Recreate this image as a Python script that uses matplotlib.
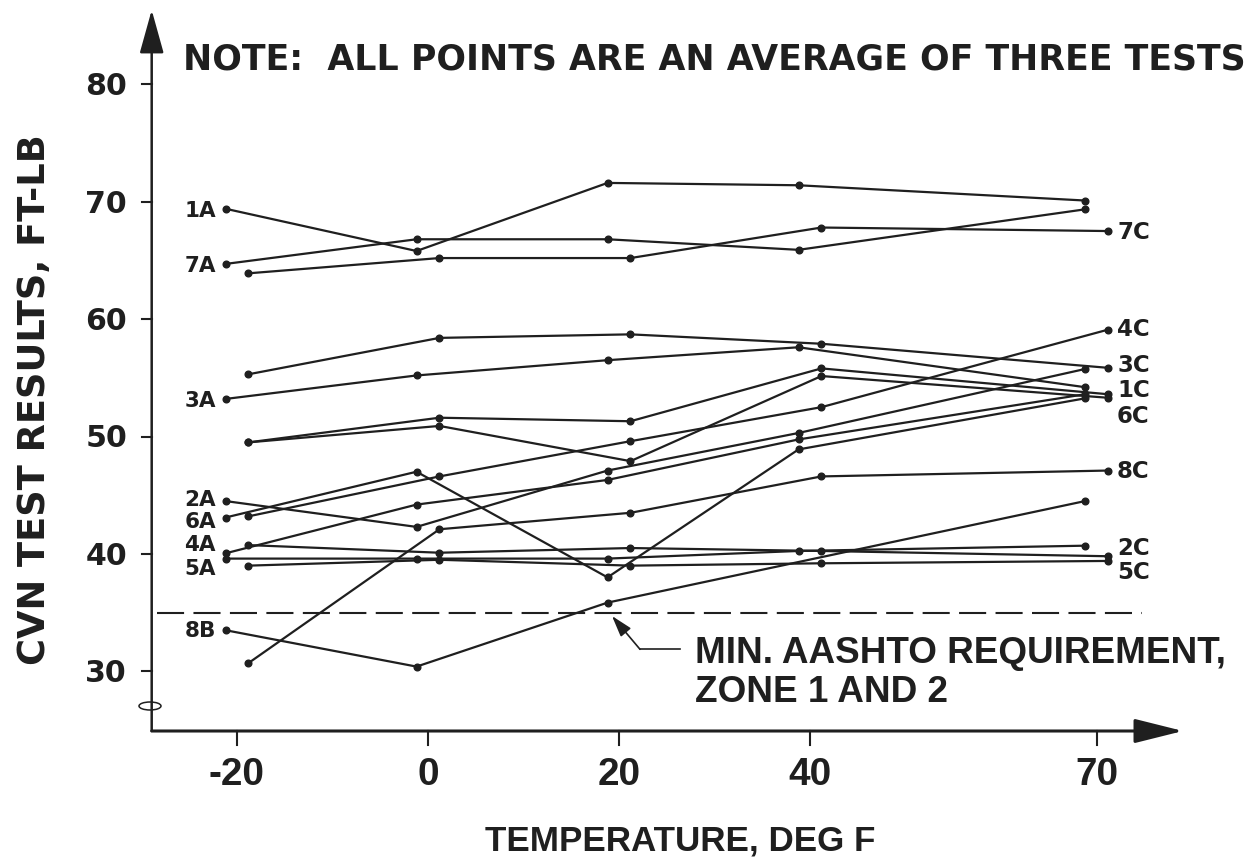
import numpy as np
import matplotlib
matplotlib.use('Agg')
import matplotlib.pyplot as plt
from matplotlib.patches import Ellipse

# nominal test temperatures (deg F) and CVN averages (ft-lb)
temps = [-20, 0, 20, 40, 70]

s_1A = [69.4, 65.8, 71.6, 71.4, 70.1]
s_7A = [64.7, 66.8, 66.8, 65.9, 69.35]
s_7C = [63.9, 65.2, 65.2, 67.8, 67.5]
s_3C = [55.3, 58.4, 58.7, 57.9, 55.85]
s_3A = [53.2, 55.2, 56.5, 57.6, 54.2]
s_1C = [49.5, 51.6, 51.3, 55.8, 53.6]
s_6C = [49.5, 50.9, 47.9, 55.15, 53.3]
s_2A = [44.5, 42.3, 47.1, 50.3, 55.75]
s_4A = [40.05, 44.2, 46.3, 49.75, 53.6]
s_6A = [43.1, 47.0, 38.0, 48.9, 53.25]
s_4C = [43.2, 46.6, 49.6, 52.5, 59.1]
s_8C = [30.7, 42.1, 43.5, 46.6, 47.1]
s_8B = [33.5, 30.4, 35.85, np.nan, 44.5]
s_2C = [40.75, 40.1, 40.5, 40.25, 39.8]
s_5A = [39.6, 39.6, 39.6, 40.25, 40.7]
s_5C = [39.0, 39.5, 39.0, 39.2, 39.4]

# which side of the nominal temperature each series was plotted on
series = [
    (s_1A, -1), (s_7A, -1), (s_7C, 1), (s_3C, 1), (s_3A, -1),
    (s_1C, 1), (s_6C, 1), (s_2A, -1), (s_4A, -1), (s_6A, -1),
    (s_4C, 1), (s_8C, 1), (s_8B, -1), (s_2C, 1), (s_5A, -1), (s_5C, 1),
]

left_labels = ['1A', '7A', '3A', '2A', '6A', '4A', '5A', '8B']
left_label_y = [69.4, 64.7, 53.2, 44.75, 42.9, 40.9, 38.85, 33.6]
right_labels = ['7C', '4C', '3C', '1C', '6C', '8C', '2C', '5C']
right_label_y = [67.5, 59.25, 56.2, 54.0, 51.8, 47.1, 40.6, 38.5]

min_req = 35

INK = '#1f1f1f'
BOLD_H = 'Liberation Sans'
BOLD_D = 'DejaVu Sans'

# pixel geometry of the drawing
PX_DEG = 9.55
X0 = 428.0
PX_FT = 11.74
Y80 = 84.3
W, H = 1248, 857


def dx(px):
    return (px - X0) / PX_DEG


def dy(py):
    return 80 - (py - Y80) / PX_FT


fig = plt.figure(figsize=(W / 100, H / 100), dpi=100)
ax = fig.add_axes([0, 0, 1, 1])
ax.set_xlim(dx(0), dx(W))
ax.set_ylim(dy(H), dy(0))
ax.axis('off')

# data lines
off = 1.2
for vals, side in series:
    v = np.array(vals, dtype=float)
    t = np.array(temps, dtype=float) + side * off
    ok = ~np.isnan(v)
    ax.plot(t[ok], v[ok], '-o', color=INK, lw=1.6, ms=4.8,
            mfc=INK, mec=INK, solid_joinstyle='round', zorder=3)

# minimum requirement
ax.plot([dx(157), dx(1142)], [min_req, min_req], color=INK, lw=1.5,
        dashes=(13, 4.5), zorder=2)

# axes with arrowheads
ax.annotate('', xy=(dx(151.7), dy(10)), xytext=(dx(151.7), dy(731)),
            arrowprops=dict(arrowstyle='-|>,head_length=2.7,head_width=0.75',
                            mutation_scale=10, lw=1.8, color=INK,
                            shrinkA=0, shrinkB=0))
ax.annotate('', xy=(dx(1183), dy(731)), xytext=(dx(151.7), dy(731)),
            arrowprops=dict(arrowstyle='-|>,head_length=3.0,head_width=0.75',
                            mutation_scale=10, lw=2.2, color=INK,
                            shrinkA=0, shrinkB=0))
ax.add_patch(Ellipse((dx(150), dy(706)), 22 / PX_DEG, 8 / PX_FT,
                     fill=False, lw=1.1, ec=INK))

# y ticks
for v in [30, 40, 50, 60, 70, 80]:
    ax.plot([dx(141.7), dx(151.7)], [v, v], color=INK, lw=1.5)
    ax.text(dx(127), v - 10.9 / PX_FT, str(v), ha='right', va='baseline',
            fontsize=21.6, fontweight='bold', family=BOLD_D, color=INK)

# x ticks
for t in temps:
    ax.plot([t, t], [dy(731), dy(745)], color=INK, lw=1.5)
    ax.text(t, dy(785), str(t), ha='center', va='baseline',
            fontsize=27.9, fontweight='bold', family=BOLD_H, color=INK)

ax.text(dx(680), dy(850), 'TEMPERATURE, DEG F', ha='center', va='baseline',
        fontsize=25.2, fontweight='bold', family=BOLD_H, color=INK)
ax.text(dx(35), dy(400), 'CVN TEST RESULTS, FT-LB', ha='center', va='center',
        rotation=90, fontsize=26.5, fontweight='bold', family=BOLD_D, color=INK)
ax.text(dx(183), dy(70), 'NOTE:  ALL POINTS ARE AN AVERAGE OF THREE TESTS',
        ha='left', va='baseline', fontsize=25, fontweight='bold',
        family=BOLD_D, color=INK)

# series labels
lab_size = 15.5
cap = 0.729 * lab_size / 0.72 / 2 / PX_FT
for lab, v in zip(left_labels, left_label_y):
    ax.text(dx(216), v - cap, lab, ha='right', va='baseline', fontsize=lab_size,
            fontweight='bold', family=BOLD_D, color=INK)
for lab, v in zip(right_labels, right_label_y):
    ax.text(dx(1117), v - cap, lab, ha='left', va='baseline', fontsize=lab_size + 1,
            fontweight='bold', family=BOLD_D, color=INK)

# requirement note with leader
ax.plot([dx(680), dx(640)], [dy(649.3), dy(649.3)], color=INK, lw=1.2)
ax.annotate('', xy=(dx(612), dy(616)), xytext=(dx(640), dy(649.3)),
            arrowprops=dict(arrowstyle='-|>,head_length=1.3,head_width=0.4',
                            mutation_scale=10, lw=1.2, color=INK,
                            shrinkA=0, shrinkB=0))
ax.text(dx(695), dy(663.3), 'MIN. AASHTO REQUIREMENT,', ha='left',
        va='baseline', fontsize=26.6, fontweight='bold', family=BOLD_H,
        color=INK)
ax.text(dx(695), dy(701.7), 'ZONE 1 AND 2', ha='left', va='baseline',
        fontsize=26.6, fontweight='bold', family=BOLD_H, color=INK)

fig.savefig('out.png', dpi=100, facecolor='white')
